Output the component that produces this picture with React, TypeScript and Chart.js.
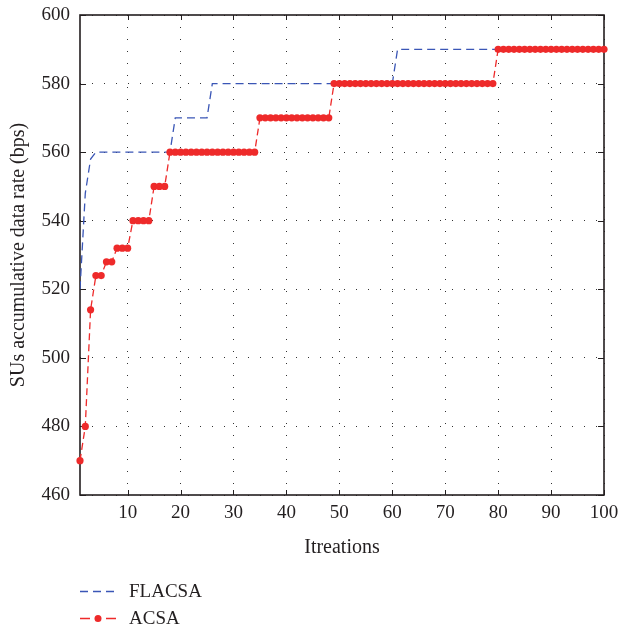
import React, { useEffect, useRef } from 'react';
import { Chart, registerables } from 'chart.js';

Chart.register(...registerables);

const iterations = [
  1, 2, 3, 4, 5, 6, 7, 8, 9, 10, 11, 12, 13, 14, 15, 16, 17, 18, 19, 20,
  21, 22, 23, 24, 25, 26, 27, 28, 29, 30, 31, 32, 33, 34, 35, 36, 37, 38, 39, 40,
  41, 42, 43, 44, 45, 46, 47, 48, 49, 50, 51, 52, 53, 54, 55, 56, 57, 58, 59, 60,
  61, 62, 63, 64, 65, 66, 67, 68, 69, 70, 71, 72, 73, 74, 75, 76, 77, 78, 79, 80,
  81, 82, 83, 84, 85, 86, 87, 88, 89, 90, 91, 92, 93, 94, 95, 96, 97, 98, 99, 100,
];

const flacsa = [
  520, 548, 558, 560, 560, 560, 560, 560, 560, 560, 560, 560, 560, 560, 560, 560, 560, 560, 570, 570,
  570, 570, 570, 570, 570, 580, 580, 580, 580, 580, 580, 580, 580, 580, 580, 580, 580, 580, 580, 580,
  580, 580, 580, 580, 580, 580, 580, 580, 580, 580, 580, 580, 580, 580, 580, 580, 580, 580, 580, 580,
  590, 590, 590, 590, 590, 590, 590, 590, 590, 590, 590, 590, 590, 590, 590, 590, 590, 590, 590, 590,
  590, 590, 590, 590, 590, 590, 590, 590, 590, 590, 590, 590, 590, 590, 590, 590, 590, 590, 590, 590,
];

const acsa = [
  470, 480, 514, 524, 524, 528, 528, 532, 532, 532, 540, 540, 540, 540, 550, 550, 550, 560, 560, 560,
  560, 560, 560, 560, 560, 560, 560, 560, 560, 560, 560, 560, 560, 560, 570, 570, 570, 570, 570, 570,
  570, 570, 570, 570, 570, 570, 570, 570, 580, 580, 580, 580, 580, 580, 580, 580, 580, 580, 580, 580,
  580, 580, 580, 580, 580, 580, 580, 580, 580, 580, 580, 580, 580, 580, 580, 580, 580, 580, 580, 590,
  590, 590, 590, 590, 590, 590, 590, 590, 590, 590, 590, 590, 590, 590, 590, 590, 590, 590, 590, 590,
];

const xTicks = [10, 20, 30, 40, 50, 60, 70, 80, 90, 100];
const yTicks = [460, 480, 500, 520, 540, 560, 580, 600];
const seriesNames = ['FLACSA', 'ACSA'];
const xTitle = 'Itreations';
const yTitle = 'SUs accumulative data rate (bps)';

const FONT = '"Liberation Serif", "DejaVu Serif", serif';
const INK = '#231f20';
const BLUE = '#3a56b6';
const RED = '#ee2a2a';

const framePlugin = {
  id: 'frameTicks',
  beforeDatasetsDraw(chart: any) {
    const { ctx, chartArea, scales } = chart;
    const { left, right, top, bottom } = chartArea;
    ctx.save();
    ctx.strokeStyle = INK;
    ctx.lineWidth = 1;
    ctx.setLineDash([]);
    xTicks.forEach((t) => {
      const px = Math.round(scales.x.getPixelForValue(t)) + 0.5;
      ctx.beginPath();
      ctx.moveTo(px, bottom);
      ctx.lineTo(px, bottom - 5);
      ctx.moveTo(px, top);
      ctx.lineTo(px, top + 5);
      ctx.stroke();
    });
    yTicks.forEach((t) => {
      const py = Math.round(scales.y.getPixelForValue(t)) + 0.5;
      ctx.beginPath();
      ctx.moveTo(left, py);
      ctx.lineTo(left + 6, py);
      ctx.moveTo(right, py);
      ctx.lineTo(right - 6, py);
      ctx.stroke();
    });
    ctx.lineWidth = 1.6;
    ctx.strokeRect(left, top, right - left, bottom - top);
    ctx.restore();
  },
  afterDraw(chart: any) {
    const { ctx } = chart;
    ctx.save();
    ctx.font = '19px ' + FONT;
    ctx.fillStyle = INK;
    ctx.textBaseline = 'middle';
    ctx.textAlign = 'left';
    // FLACSA sample
    const y1 = 591.5;
    ctx.strokeStyle = BLUE;
    ctx.lineWidth = 1.3;
    ctx.setLineDash([8, 5]);
    ctx.beginPath();
    ctx.moveTo(80, y1);
    ctx.lineTo(116, y1);
    ctx.stroke();
    ctx.fillText(seriesNames[0], 129, y1 + 1);
    // ACSA sample
    const y2 = 618.5;
    ctx.strokeStyle = RED;
    ctx.setLineDash([10, 16]);
    ctx.beginPath();
    ctx.moveTo(80, y2);
    ctx.lineTo(116, y2);
    ctx.stroke();
    ctx.setLineDash([]);
    ctx.fillStyle = RED;
    ctx.beginPath();
    ctx.arc(98, y2, 3.5, 0, Math.PI * 2);
    ctx.fill();
    ctx.fillStyle = INK;
    ctx.fillText(seriesNames[1], 129, y2 + 1);
    ctx.restore();
  },
};

export default function App() {
  const ref = useRef<HTMLCanvasElement>(null);

  useEffect(() => {
    if (!ref.current) return;
    const chart = new Chart(ref.current, {
      type: 'line',
      data: {
        datasets: [
          {
            label: seriesNames[0],
            data: iterations.map((x, i) => ({ x, y: flacsa[i] })),
            borderColor: BLUE,
            backgroundColor: BLUE,
            borderWidth: 1.3,
            borderDash: [8, 5],
            pointRadius: 0,
            tension: 0,
            order: 1,
          },
          {
            label: seriesNames[1],
            data: iterations.map((x, i) => ({ x, y: acsa[i] })),
            borderColor: RED,
            backgroundColor: RED,
            borderWidth: 1.3,
            borderDash: [7, 4],
            pointRadius: 3.6,
            pointBorderWidth: 0,
            pointBackgroundColor: RED,
            tension: 0,
            clip: false as any,
            order: 0,
          },
        ],
      },
      options: {
        animation: false,
        responsive: false,
        devicePixelRatio: 1,
        layout: { padding: { left: 0, right: 15, top: 15, bottom: 65 } },
        plugins: {
          legend: { display: false },
          tooltip: { enabled: false },
        },
        scales: {
          x: {
            type: 'linear',
            min: 1,
            max: 100,
            afterBuildTicks: (scale: any) => {
              scale.ticks = xTicks.map((v) => ({ value: v }));
            },
            afterFit: (scale: any) => {
              scale.height = 69;
              scale.paddingLeft = 0;
              scale.paddingRight = 0;
            },
            grid: { color: '#333', lineWidth: 1, drawTicks: false },
            border: { display: false, dash: [1, 11] },
            ticks: {
              padding: 7,
              color: INK,
              font: { family: FONT, size: 19 },
              maxRotation: 0,
              autoSkip: false,
            },
            title: {
              display: true,
              text: xTitle,
              color: INK,
              font: { family: FONT, size: 20 },
            },
          },
          y: {
            type: 'linear',
            min: 460,
            max: 600,
            afterBuildTicks: (scale: any) => {
              scale.ticks = yTicks.map((v) => ({ value: v }));
            },
            afterFit: (scale: any) => {
              scale.width = 80;
              scale.paddingTop = 0;
              scale.paddingBottom = 0;
            },
            grid: { color: '#333', lineWidth: 1, drawTicks: false },
            border: { display: false, dash: [1, 11] },
            ticks: {
              padding: 10,
              color: INK,
              font: { family: FONT, size: 19 },
            },
            title: {
              display: true,
              text: yTitle,
              color: INK,
              padding: { top: 7, bottom: 4 },
              font: { family: FONT, size: 20 },
            },
          },
        },
      },
      plugins: [framePlugin],
    });
    return () => chart.destroy();
  }, []);

  return (
    <div style={{ position: 'fixed', left: 0, top: 0, width: 619, height: 629, background: '#fff' }}>
      <canvas ref={ref} width={619} height={629} style={{ display: 'block' }} />
    </div>
  );
}
